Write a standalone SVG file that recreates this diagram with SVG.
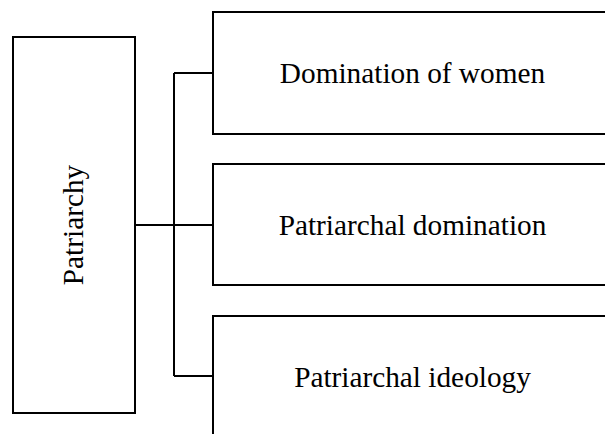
<svg xmlns="http://www.w3.org/2000/svg" width="605" height="434" viewBox="0 0 605 434">
<style>
.box{fill:#fff;stroke:#000;stroke-width:2}
.lbl{font-family:"Liberation Serif","Times New Roman",serif;font-size:29.3px;fill:#000;text-anchor:middle}
.conn{fill:none;stroke:#000;stroke-width:2}
</style>
<rect width="605" height="434" fill="#fff"/>
<g id="connectors">
<path class="conn" d="M135 225H213M174 73V376M174 73H213M174 376H213"/>
</g>
<g id="patriarchy">
<rect class="box" x="13" y="37" width="122" height="376"/>
<text class="lbl" transform="translate(83 225) rotate(-90)" x="0" y="0">Patriarchy</text>
</g>
<g id="domination-of-women">
<rect class="box" x="213" y="12" width="410" height="122"/>
<text class="lbl" x="412.5" y="83">Domination of women</text>
</g>
<g id="patriarchal-domination">
<rect class="box" x="213" y="164" width="410" height="121"/>
<text class="lbl" x="412.5" y="235">Patriarchal domination</text>
</g>
<g id="patriarchal-ideology">
<rect class="box" x="213" y="316" width="410" height="140"/>
<text class="lbl" x="412.5" y="387">Patriarchal ideology</text>
</g>
</svg>
